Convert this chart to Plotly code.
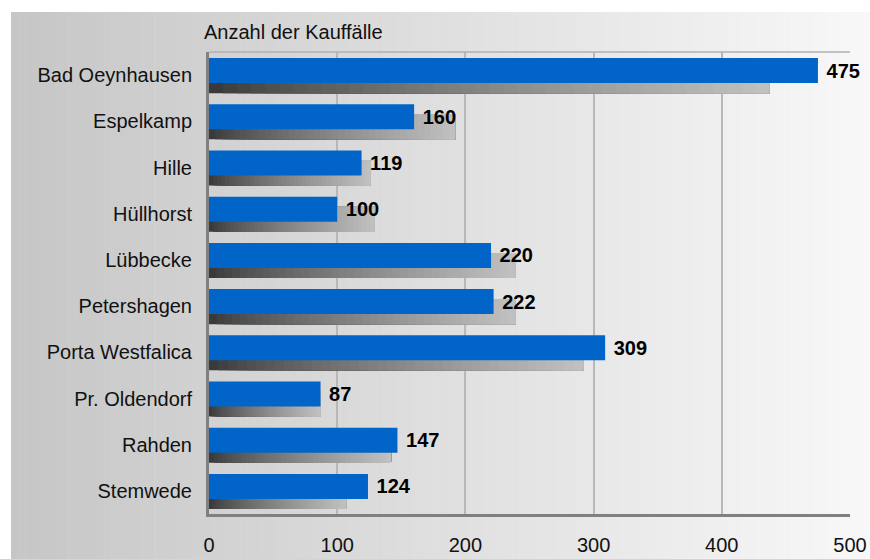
import plotly.graph_objects as go

# Kauffälle je Gemeinde (blau: aktuelles Jahr, grau: Vorjahr)
gemeinden = ["Bad Oeynhausen", "Espelkamp", "Hille", "Hüllhorst", "Lübbecke",
             "Petershagen", "Porta Westfalica", "Pr. Oldendorf", "Rahden", "Stemwede"]
kauffaelle = [475, 160, 119, 100, 220, 222, 309, 87, 147, 124]
vorjahr = [437, 192, 126, 129, 239, 239, 292, 87, 142, 107]
x_ticks = [0, 100, 200, 300, 400, 500]
titel = "Anzahl der Kauffälle"

FONT = "Liberation Sans, Arial, sans-serif"
W, H = 870, 559
ML, MR, MT, MB = 209, 20, 52, 45
pw, ph = W - ML - MR, H - MT - MB

fig = go.Figure()

# graue Vorjahresbalken mit Verlauf (dunkel -> hell): jede Stufe reicht bis zum Balkenende
n_seg = 40
for i in range(n_seg):
    t = i / (n_seg - 1)
    g = int(round(58 + (192 - 58) * t ** 0.8))
    fig.add_trace(go.Bar(
        y=gemeinden,
        x=[v * (1 - i / n_seg) for v in vorjahr],
        base=[v * i / n_seg for v in vorjahr],
        orientation="h",
        offset=-0.15, width=0.541,
        marker=dict(color=f"rgb({g},{g},{g})", line=dict(width=0)),
        hoverinfo="skip", showlegend=False,
    ))

fig.add_trace(go.Bar(
    y=gemeinden, x=kauffaelle, orientation="h",
    offset=-0.368, width=0.541,
    marker=dict(color="#0064c8", line=dict(width=0)),
    texttemplate="\u00a0%{x}", textposition="outside",
    textfont=dict(family=FONT, size=20, color="black", weight="bold"),
    constraintext="none", cliponaxis=False,
    showlegend=False,
))

# Hintergrund mit horizontalem Verlauf
shapes = []
px0, py0 = 11, 12
n_bg = 120
for i in range(n_bg):
    a = px0 + (W - px0) * i / n_bg
    b = px0 + (W - px0) * (i + 1) / n_bg + 0.5
    c = int(round(198 + (248 - 198) * (i + 0.5) / n_bg))
    shapes.append(dict(
        type="rect", xref="paper", yref="paper", layer="below",
        x0=(a - ML) / pw, x1=(b - ML) / pw,
        y0=(MT + ph - H) / ph, y1=(MT + ph - py0) / ph,
        fillcolor=f"rgb({c},{c},{c})", line=dict(width=0),
    ))
# obere Rahmenlinie
shapes.append(dict(type="line", xref="paper", yref="paper", x0=0, x1=1, y0=1, y1=1,
                   line=dict(color="#b0b0b0", width=1.5)))

fig.update_layout(
    width=W, height=H,
    margin=dict(l=ML, r=MR, t=MT, b=MB),
    paper_bgcolor="white", plot_bgcolor="rgba(0,0,0,0)",
    barmode="overlay",
    shapes=shapes,
    font=dict(family=FONT, size=20, color="#111"),
    xaxis=dict(
        range=[0, 500], tickvals=x_ticks, ticktext=[str(v) for v in x_ticks],
        showgrid=True, gridcolor="#b8b8b8", gridwidth=1.5,
        showline=True, linecolor="#808080", linewidth=3,
        zeroline=False, ticks="", ticklabelstandoff=11,
        tickfont=dict(size=20, color="#111"), automargin=False,
    ),
    yaxis=dict(
        range=[9.5, -0.5], showgrid=False,
        showline=True, linecolor="#808080", linewidth=3,
        ticks="", ticklabelstandoff=10,
        tickfont=dict(size=20, color="#111"), automargin=False,
    ),
    annotations=[dict(
        text=titel, xref="paper", yref="paper", x=(202 - ML) / pw, y=1,
        xanchor="left", yanchor="bottom", yshift=7, showarrow=False,
        font=dict(family=FONT, size=20, color="#111"),
    )],
)

fig.write_html("out.html", config={"displayModeBar": False},
               post_script="document.body.style.margin='0';")
